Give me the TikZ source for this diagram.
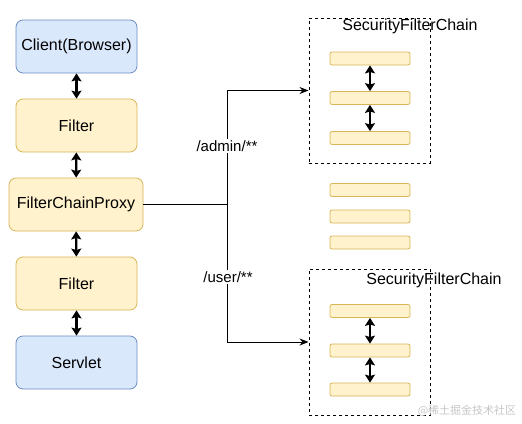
\documentclass[tikz,border=0pt]{standalone}
\usepackage{fontspec}
\setmainfont{Liberation Sans}
\newfontfamily\cjk{Noto Sans CJK SC}
\usetikzlibrary{arrows.meta}
\definecolor{fillblue}{HTML}{DAE8FC}
\definecolor{drawblue}{HTML}{6C8EBF}
\definecolor{fillyellow}{HTML}{FFF2CC}
\definecolor{drawyellow}{HTML}{D6B656}
\tikzset{
  bluebox/.style={draw=drawblue, fill=fillblue, line width=0.8pt, rounded corners=7pt,
    minimum width=121pt, minimum height=53pt, font=\fontsize{16}{19}\selectfont},
  yellowbox/.style={bluebox, draw=drawyellow, fill=fillyellow},
  bar/.style={draw=drawyellow, fill=fillyellow, line width=0.8pt, rounded corners=2pt,
    minimum width=80pt, minimum height=13pt, inner sep=0pt},
  chainbox/.style={draw, dash pattern=on 3pt off 3pt, line width=1pt,
    minimum width=121pt, inner sep=0pt},
  dbl/.style={{Stealth[length=8pt,width=10pt,inset=1.5pt]}-{Stealth[length=8pt,width=10pt,inset=1.5pt]},
    line width=2.4pt},
  route/.style={fill=white, inner sep=1pt, font=\fontsize{15}{18}\selectfont},
}
\begin{document}
\begin{tikzpicture}[x=1pt, y=-1pt]
  \useasboundingbox (0,0) rectangle (522,423);
  % Request path
  \node[bluebox] (client) at (76.5, 46.5) {Client(Browser)};
  \node[yellowbox] (filtera) at (76.5, 125.5) {Filter};
  \node[yellowbox, minimum width=134pt] (proxy) at (76, 204.5) {FilterChainProxy};
  \node[yellowbox] (filterb) at (76.5, 283.5) {Filter};
  \node[bluebox] (servlet) at (76.5, 362.5) {Servlet};

  \draw[dbl] (client) -- (filtera);
  \draw[dbl] (filtera) -- (proxy);
  \draw[dbl] (proxy) -- (filterb);
  \draw[dbl] (filterb) -- (servlet);

  % Security chains
  \node[chainbox, minimum height=145pt] (chaina) at (369.5, 90.5) {};
  \node[chainbox, minimum height=146pt] (chainb) at (369.5, 342) {};
  \node[font=\fontsize{16}{19}\selectfont] (titlea) at (410, 26) {SecurityFilterChain};
  \node[font=\fontsize{16}{19}\selectfont] (titleb) at (434, 280) {SecurityFilterChain};

  \node[bar] (a1) at (370, 58.5) {};
  \node[bar] (a2) at (370, 98) {};
  \node[bar] (a3) at (370, 138) {};
  \draw[dbl] (a1) -- (a2);
  \draw[dbl] (a2) -- (a3);

  \node[bar] (m1) at (370, 190) {};
  \node[bar] (m2) at (370, 216.5) {};
  \node[bar] (m3) at (370, 242.5) {};

  \node[bar] (b1) at (370, 311) {};
  \node[bar] (b2) at (370, 350.5) {};
  \node[bar] (b3) at (370, 389.5) {};
  \draw[dbl] (b1) -- (b2);
  \draw[dbl] (b2) -- (b3);

  % Routing
  \coordinate (split) at (227, 204.5);
  \draw[line width=0.8pt] (proxy.east) -- (split);
  \draw[line width=0.8pt, -{Stealth[length=9pt,width=7pt]}] (split) |- (chaina.west);
  \draw[line width=0.8pt, -{Stealth[length=9pt,width=7pt]}] (split) |- (chainb.west);
  \node[route] (admin) at (227, 146) {/admin/**};
  \node[route] (user) at (228, 277) {/user/**};

  \node[text=gray!45, font=\cjk\fontsize{11}{13}\selectfont] (mark) at (467, 411) {@稀土掘金技术社区};
\end{tikzpicture}
\end{document}
